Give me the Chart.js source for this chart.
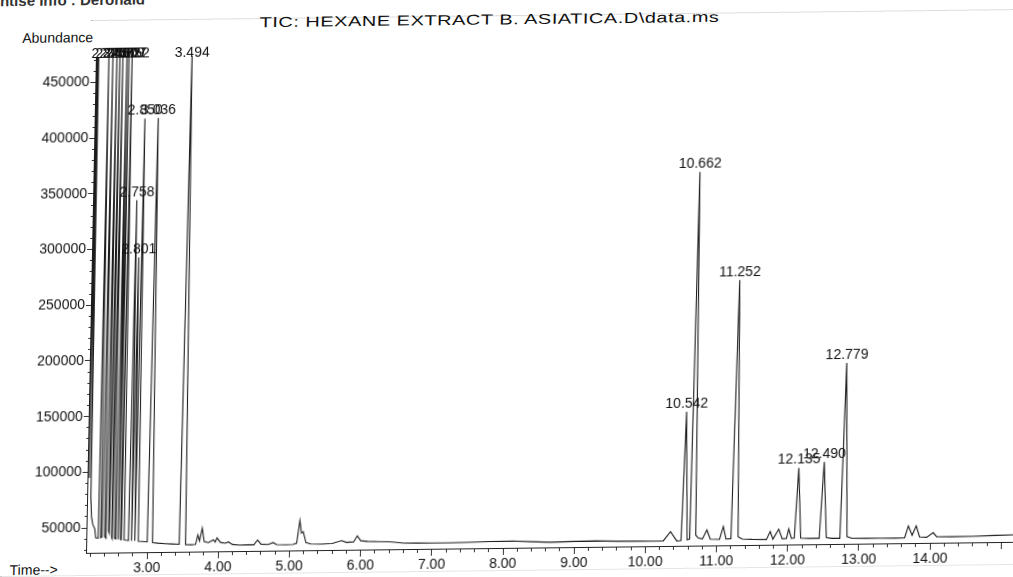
<!DOCTYPE html>
<html>
<head>
<meta charset="utf-8">
<script src="https://cdn.jsdelivr.net/npm/chart.js@4.4.1/dist/chart.umd.min.js"></script>
<style>
  html, body { margin: 0; padding: 0; background: #fff; overflow: hidden; }
  #page {
    position: relative; width: 1013px; height: 577px;
    font-family: "Liberation Sans", Arial, sans-serif; color: #111;
    /* the scan is slightly skewed: tops lean right, right side sits higher */
    transform-origin: 86px 553px;
    transform: matrix(1, -0.0119, -0.02, 1, 0, 0);
  }
  .txt { position: absolute; white-space: nowrap; }
  #hdr { left: -11px; top: -9px; font-size: 15px; font-weight: bold; color: #333; }
  #title { left: 249px; top: 13px; font-size: 20px; letter-spacing: 0.5px; transform: scaleY(0.72); transform-origin: 0 50%; }
  #abund { left: 12px; top: 29px; font-size: 14px; }
  #time { left: 10px; top: 561px; font-size: 14px; }
  #dots1 { position: absolute; left: 80px; top: 20px; width: 960px; border-top: 1px dotted #bbb; }
  #dots2 { position: absolute; left: 0; top: 575px; width: 1040px; border-top: 1px dotted #ccc; }
  canvas { position: absolute; left: 0; top: 0; }
</style>
</head>
<body>
<div id="page">
  <div class="txt" id="hdr">ntise Info : Deronald</div>
  <div id="dots1"></div>
  <div class="txt" id="title">TIC: HEXANE EXTRACT B. ASIATICA.D\data.ms</div>
  <div class="txt" id="abund">Abundance</div>
  <div class="txt" id="time">Time--&gt;</div>
  <div id="dots2"></div>
  <canvas id="myChart" width="1013" height="577"></canvas>
</div>
<script>
// retention time (min) and abundance
const rt = [
  2.143, 2.150, 2.160, 2.170, 2.183, 2.196, 2.21, 2.23, 2.26, 2.275,
  2.31, 2.326, 2.345, 2.365, 2.382, 2.40, 2.42, 2.438, 2.455, 2.465,
  2.480, 2.50, 2.507, 2.522, 2.54, 2.56, 2.579, 2.593, 2.607, 2.625,
  2.635, 2.652, 2.675, 2.70, 2.735, 2.758, 2.78, 2.801, 2.825, 2.850,
  2.875, 2.93, 3.00, 3.036, 3.075, 3.15, 3.25, 3.35, 3.45, 3.494,
  3.54, 3.62, 3.68, 3.71, 3.735, 3.77, 3.80, 3.86, 3.93, 3.955,
  3.98, 4.03, 4.10, 4.14, 4.20, 4.30, 4.40, 4.50, 4.55, 4.60,
  4.70, 4.77, 4.82, 4.95, 5.05, 5.10, 5.14, 5.165, 5.19, 5.23,
  5.30, 5.45, 5.60, 5.73, 5.80, 5.90, 5.95, 6.00, 6.10, 6.25,
  6.40, 6.51, 6.60, 6.80, 7.00, 7.26, 7.50, 7.80, 8.14, 8.40,
  8.66, 9.00, 9.30, 9.60, 9.88, 10.10, 10.25, 10.35, 10.44, 10.50,
  10.542, 10.585, 10.62, 10.662, 10.705, 10.74, 10.80, 10.86, 10.91, 11.04,
  11.09, 11.13, 11.20, 11.252, 11.30, 11.36, 11.50, 11.70, 11.75, 11.79,
  11.87, 11.92, 11.98, 12.01, 12.05, 12.09, 12.135, 12.18, 12.30, 12.44,
  12.490, 12.54, 12.62, 12.73, 12.779, 12.83, 12.90, 13.10, 13.30, 13.50,
  13.64, 13.69, 13.745, 13.80, 13.85, 13.95, 14.04, 14.09, 14.30, 14.60,
  14.90, 15.163
];
const abundance = [
  49000, 49000, 473000, 95000, 473000, 78000, 60000, 53000, 49000, 41000,
  40700, 473000, 41000, 41500, 473000, 42000, 40500, 473000, 47000, 45000,
  473000, 41000, 40000, 473000, 40500, 39800, 473000, 39500, 473000, 39200,
  39000, 473000, 38800, 38500, 38300, 344000, 38000, 292500, 37800, 417000,
  37500, 37200, 36800, 417500, 36000, 35500, 35000, 34600, 34300, 473000,
  33900, 33700, 34000, 42500, 37000, 48500, 36500, 35500, 37900, 36000,
  39600, 35500, 34800, 35900, 33500, 33000, 33200, 33100, 37400, 33500,
  33200, 34800, 33000, 32700, 33000, 34000, 54300, 43000, 44300, 34500,
  33200, 33000, 33400, 35900, 34200, 34600, 39900, 35500, 34900, 34500,
  34300, 33600, 33000, 32800, 32700, 32700, 33000, 33400, 33600, 32800,
  32200, 32600, 32800, 32400, 32200, 32000, 32100, 40500, 32000, 32300,
  147800, 33000, 33500, 363100, 37000, 34500, 33500, 41500, 33200, 33000,
  44500, 33200, 33500, 265700, 35000, 33000, 32600, 32400, 39500, 32600,
  41500, 32800, 33000, 41500, 33000, 33300, 96300, 33200, 32800, 32800,
  101400, 33300, 32600, 32600, 190000, 34000, 32500, 32400, 32300, 32200,
  32300, 43000, 34500, 43000, 33000, 32600, 36700, 33000, 32800, 33000,
  33500, 33800
];

// labelled peaks
const peakTimes = [2.326, 2.382, 2.438, 2.480, 2.522, 2.579, 2.607, 2.652,
  2.758, 2.801, 2.850, 3.036, 3.494, 10.542, 10.662, 11.252, 12.135, 12.490, 12.779];
const peakLabels = ['2.326', '2.382', '2.438', '2.480', '2.522', '2.579', '2.607', '2.652',
  '2.758', '2.801', '2.850', '3.036', '3.494', '10.542', '10.662', '11.252', '12.135', '12.490', '12.779'];

const xTickLabels = ['3.00', '4.00', '5.00', '6.00', '7.00', '8.00', '9.00', '10.00', '11.00', '12.00', '13.00', '14.00'];
const yTickLabels = [50000, 100000, 150000, 200000, 250000, 300000, 350000, 400000, 450000];

const X_MIN = 2.143, X_MAX = 15.163;
const Y_MIN = 27560, Y_MAX = 473000;
const FONT = '"Liberation Sans", Arial, sans-serif';

const isXMajor = v => Math.abs(v - Math.round(v)) < 1e-6;
const isYMajor = v => yTickLabels.includes(v);

const peakLabelPlugin = {
    id: 'peakLabels',
    afterDraw(chart) {
        const ctx = chart.ctx;
        const xs = chart.scales.x, ys = chart.scales.y;
        const top = chart.chartArea.top;
        ctx.save();
        ctx.font = '14px ' + FONT;
        ctx.fillStyle = '#111';
        ctx.textAlign = 'center';
        ctx.textBaseline = 'alphabetic';
        peakTimes.forEach((t, i) => {
            const idx = rt.indexOf(t);
            const v = abundance[idx];
            const px = xs.getPixelForValue(t);
            const py = v >= Y_MAX ? top + 1 : ys.getPixelForValue(v) - 4;
            ctx.fillText(peakLabels[i], px, py);
        });
        ctx.restore();
    }
};

const ctx = document.getElementById('myChart').getContext('2d');
const chart = new Chart(ctx, {
    type: 'line',
    data: {
        datasets: [{
            data: rt.map((t, i) => ({ x: t, y: abundance[i] })),
            borderColor: '#1c1c1c',
            borderWidth: 1.1,
            pointRadius: 0,
            tension: 0,
            fill: false
        }]
    },
    options: {
        responsive: false,
        animation: false,
        devicePixelRatio: 1,
        layout: { padding: { top: 57, right: 0, bottom: 0, left: 0 } },
        plugins: { legend: { display: false }, tooltip: { enabled: false }, title: { display: false } },
        scales: {
            x: {
                type: 'linear',
                min: X_MIN,
                max: X_MAX,
                afterBuildTicks: s => {
                    const ticks = [];
                    for (let k = 11; k <= 75; k++) ticks.push({ value: k / 5 });
                    s.ticks = ticks;
                },
                afterFit: s => { s.height = 24; },
                border: { display: true, color: '#222', width: 1 },
                grid: {
                    drawOnChartArea: false,
                    tickLength: 7,
                    tickColor: '#333',
                    tickBorderDash: c => isXMajor(c.tick.value) ? [] : [3, 20]
                },
                ticks: {
                    autoSkip: false,
                    maxRotation: 0,
                    padding: 1,
                    color: '#111',
                    font: { family: FONT, size: 14 },
                    callback: v => xTickLabels.find(s => Math.abs(parseFloat(s) - v) < 1e-6) || ''
                }
            },
            y: {
                min: Y_MIN,
                max: Y_MAX,
                afterBuildTicks: s => {
                    const ticks = [];
                    for (let v = 30000; v <= 470000; v += 10000) ticks.push({ value: v });
                    s.ticks = ticks;
                },
                afterFit: s => { s.width = 86; },
                border: { display: true, color: '#222', width: 1 },
                grid: {
                    drawOnChartArea: false,
                    tickLength: 5,
                    tickColor: '#333',
                    tickBorderDash: c => isYMajor(c.tick.value) ? [] : [0, 3, 2, 50]
                },
                ticks: {
                    autoSkip: false,
                    padding: 1,
                    color: '#111',
                    font: { family: FONT, size: 14 },
                    callback: v => isYMajor(v) ? String(v) : ''
                }
            }
        }
    },
    plugins: [peakLabelPlugin]
});
</script>
</body>
</html>
